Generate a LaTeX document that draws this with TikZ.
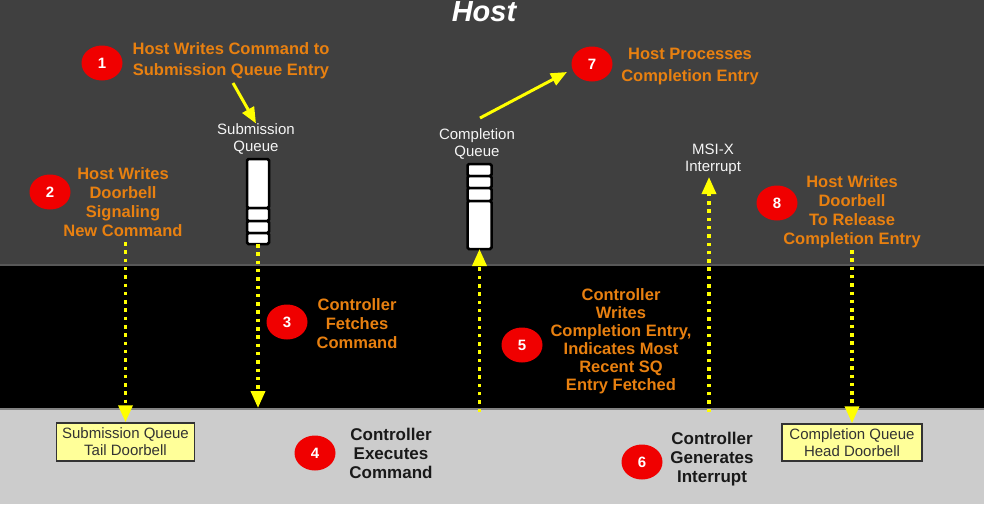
\documentclass[tikz,border=0pt]{standalone}
\usepackage{fontspec}
\setmainfont{Liberation Sans}
\usetikzlibrary{arrows.meta,shapes.geometric}
\definecolor{hostgray}{RGB}{64,64,64}
\definecolor{ctrlgray}{RGB}{204,204,204}
\definecolor{stepor}{RGB}{232,128,16}
\definecolor{dbyellow}{RGB}{255,255,153}
\definecolor{arrowyel}{RGB}{255,255,0}
\definecolor{badgered}{RGB}{240,0,0}
\begin{document}
\begin{tikzpicture}[x=1pt,y=-1pt,
 badge/.style={ellipse, fill=badgered, minimum width=41pt, minimum height=35pt, inner sep=0pt, text=white, font=\fontsize{15}{15}\selectfont\bfseries},
 ortext/.style={align=center, text=stepor, font=\fontsize{16.5}{19}\selectfont\bfseries, inner sep=0pt},
 bltext/.style={align=center, text=black!90, font=\fontsize{17}{19}\selectfont\bfseries, inner sep=0pt},
 qlabel/.style={align=center, text=white!92!gray, font=\fontsize{15}{17}\selectfont, inner sep=0pt},
 qcell/.style={draw=black, line width=2.5pt, fill=white, rounded corners=1.5pt, inner sep=0pt, outer sep=0pt, minimum width=22pt},
 dbbox/.style={draw=black!80, line width=1.5pt, fill=dbyellow, minimum width=138pt, minimum height=38pt, align=center, font=\fontsize{15}{17}\selectfont, text=black!80, inner sep=0pt},
 dotarrow/.style={draw=arrowyel, line width=3.5pt, dash pattern=on 3.5pt off 4.8pt, -{Triangle[width=14pt,length=17pt]}},
 solidarrow/.style={draw=arrowyel, line width=3pt, -{Triangle[width=13pt,length=16pt]}},
]
\useasboundingbox (0,0) rectangle (984,504);
% bands
\fill[hostgray] (0,0) rectangle (984,265);
\fill[black] (0,265) rectangle (984,409);
\fill[ctrlgray] (0,409) rectangle (984,504);
\draw[line width=1.5pt, color={rgb,255:red,88;green,88;blue,88}] (0,265) -- (984,265);
\draw[line width=1.5pt, color={rgb,255:red,130;green,130;blue,130}] (0,409) -- (984,409);

% title
\node[anchor=base, text=white, font=\fontsize{29}{29}\selectfont\bfseries\itshape, inner sep=0pt] (host) at (484,21) {Host};

% badges
\node[badge] (c1) at (102,63) {1};
\node[badge] (c2) at (50,192) {2};
\node[badge] (c3) at (287,322) {3};
\node[badge] (c4) at (315,453) {4};
\node[badge] (c5) at (522,345) {5};
\node[badge] (c6) at (642,462) {6};
\node[badge] (c7) at (592,64) {7};
\node[badge] (c8) at (777,203) {8};

% step texts
\node[ortext, font=\fontsize{16.5}{21}\selectfont\bfseries] (t1) at (231,61) {Host Writes Command to\\Submission Queue Entry};
\node[ortext] (t2) at (123,202) {Host Writes\\Doorbell\\Signaling\\New Command};
\node[ortext] (t3) at (357,324) {Controller\\Fetches\\Command};
\node[bltext] (t4) at (391,453) {Controller\\Executes\\Command};
\node[ortext, font=\fontsize{16.5}{18}\selectfont\bfseries] (t5) at (621,341) {Controller\\Writes\\Completion Entry,\\Indicates Most\\Recent SQ\\Entry Fetched};
\node[bltext] (t6) at (712,459) {Controller\\Generates\\Interrupt};
\node[ortext, font=\fontsize{16.5}{22}\selectfont\bfseries] (t7) at (690,67) {Host Processes\\Completion Entry};
\node[ortext] (t8) at (852,212) {Host Writes\\Doorbell\\To Release\\Completion Entry};

% queue labels
\node[qlabel] (sqlab) at (256,139) {Submission\\Queue};
\node[qlabel] (cqlab) at (477,144) {Completion\\Queue};
\node[qlabel] (msilab) at (713,159) {MSI-X\\Interrupt};

% submission queue
\node[qcell, minimum height=49pt] (sq0) at (258,183.5) {};
\node[qcell, minimum height=13pt] (sq1) at (258,214.5) {};
\node[qcell, minimum height=12pt] (sq2) at (258,227) {};
\node[qcell, minimum height=11pt] (sq3) at (258,238.5) {};

% completion queue
\node[qcell, minimum width=24pt, minimum height=12pt] (cq0) at (479.5,170) {};
\node[qcell, minimum width=24pt, minimum height=12pt] (cq1) at (479.5,182) {};
\node[qcell, minimum width=24pt, minimum height=13pt] (cq2) at (479.5,194.5) {};
\node[qcell, minimum width=24pt, minimum height=48pt] (cq3) at (479.5,225) {};

% doorbell boxes
\node[dbbox] (sqt) at (125.5,442) {Submission Queue\\Tail Doorbell};
\node[dbbox, minimum width=140pt, minimum height=37pt] (cqh) at (852,442.5) {Completion Queue\\Head Doorbell};

% free ends
\coordinate (d2) at (125.5,242);
\coordinate (fetch) at (258,408);
\coordinate (cqw) at (479.5,412);
\coordinate (msifrom) at (709,412);
\coordinate (msitip) at (709,177);
\coordinate (d8) at (852,250);
\coordinate (s1) at (233,83);
\coordinate (s7) at (480,118);
\coordinate (e7) at (567,72);

% connectors
\draw[dotarrow] (d2) -- (sqt.north);
\draw[dotarrow] (sq3.south) -- (fetch);
\draw[dotarrow] (cqw) -- (cq3.south);
\draw[dotarrow] (msifrom) -- (msitip);
\draw[dotarrow] (d8) -- (cqh.north);
\draw[solidarrow] (s1) -- (sqlab.north);
\draw[solidarrow] (s7) -- (e7);
\end{tikzpicture}
\end{document}
